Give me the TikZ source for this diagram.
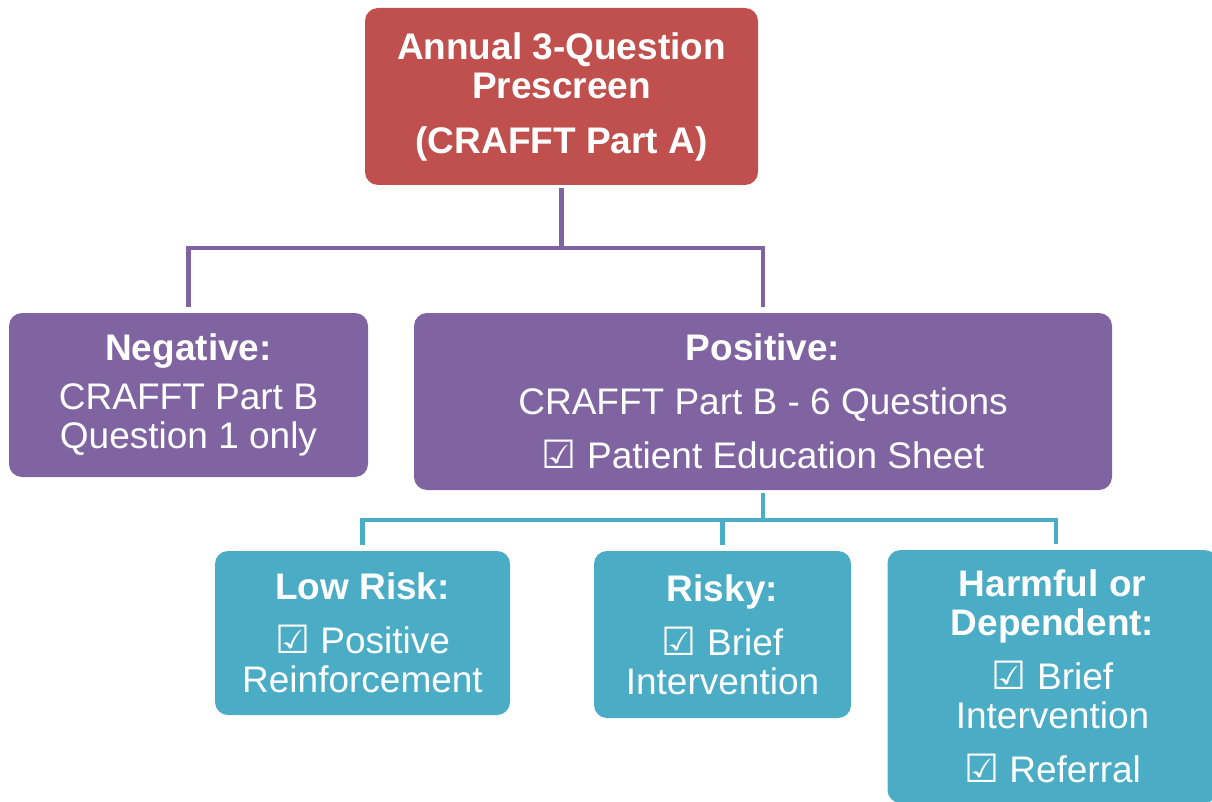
\documentclass[tikz,border=0pt]{standalone}
\usepackage{fontspec}
\setmainfont{Liberation Sans}
\newfontfamily\symfont{DejaVu Sans}
\definecolor{cred}{HTML}{C0504D}
\definecolor{cpurple}{HTML}{8064A2}
\definecolor{cteal}{HTML}{4BACC6}
\newcommand{\chk}{\smash{\symfont\fontsize{39}{39}\selectfont ☑}}
\tikzset{
  box/.style={rounded corners=13pt, text=white, align=center, inner sep=0pt, outer sep=0pt,
    font=\fontsize{37}{39}\selectfont},
  redbox/.style={box, fill=cred},
  purplebox/.style={box, fill=cpurple},
  tealbox/.style={box, fill=cteal},
  plink/.style={draw=cpurple, line width=4.5pt},
  tlink/.style={draw=cteal, line width=4.5pt},
}
\begin{document}
\begin{tikzpicture}[x=1pt,y=-1pt]
\useasboundingbox (0,0) rectangle (1212,802);
\clip (0,0) rectangle (1212,802);

\node[redbox, minimum width=393pt, minimum height=177pt] (top) at (561.5,96.5)
  {\bfseries Annual 3-Question\\\bfseries Prescreen\\[16pt]\bfseries (CRAFFT Part A)};

\node[purplebox, minimum width=359pt, minimum height=164pt] (neg) at (188.5,395)
  {\textbf{Negative:}\\[10pt]CRAFFT Part B\\Question 1 only};

\node[purplebox, minimum width=698pt, minimum height=177pt] (pos) at (763,401.5)
  {\textbf{Positive:}\\[15pt]CRAFFT Part B - 6 Questions\\[15pt]\chk{} Patient Education Sheet};

\node[tealbox, minimum width=295pt, minimum height=164pt] (low) at (362.5,633)
  {\textbf{Low Risk:}\\[15pt]\chk{} Positive\\Reinforcement};

\node[tealbox, minimum width=257pt, minimum height=167pt] (risky) at (722.5,634.5)
  {\textbf{Risky:}\\[15pt]\chk{} Brief\\Intervention};

\node[tealbox, minimum width=330pt, minimum height=253pt] (harm) at (1052.5,676.5)
  {\textbf{Harmful or}\\\textbf{Dependent:}\\[15pt]\chk{} Brief\\Intervention\\[15pt]\chk{} Referral};

\coordinate (j1) at (561.5,248);
\coordinate (j2) at (763,520);
\coordinate (hdrop) at (1056,550);

\draw[plink, shorten <=3pt] (top.south) -- (j1);
\draw[plink, shorten <=6pt, shorten >=6pt] (neg.north) |- (j1) -| (pos.north);
\draw[tlink, shorten <=3pt] (pos.south) -- (j2);
\draw[tlink, shorten <=6pt, shorten >=6pt] (low.north) |- (j2) -| (hdrop);
\draw[tlink, shorten >=6pt] (j2 -| risky.north) -- (risky.north);
\end{tikzpicture}
\end{document}
